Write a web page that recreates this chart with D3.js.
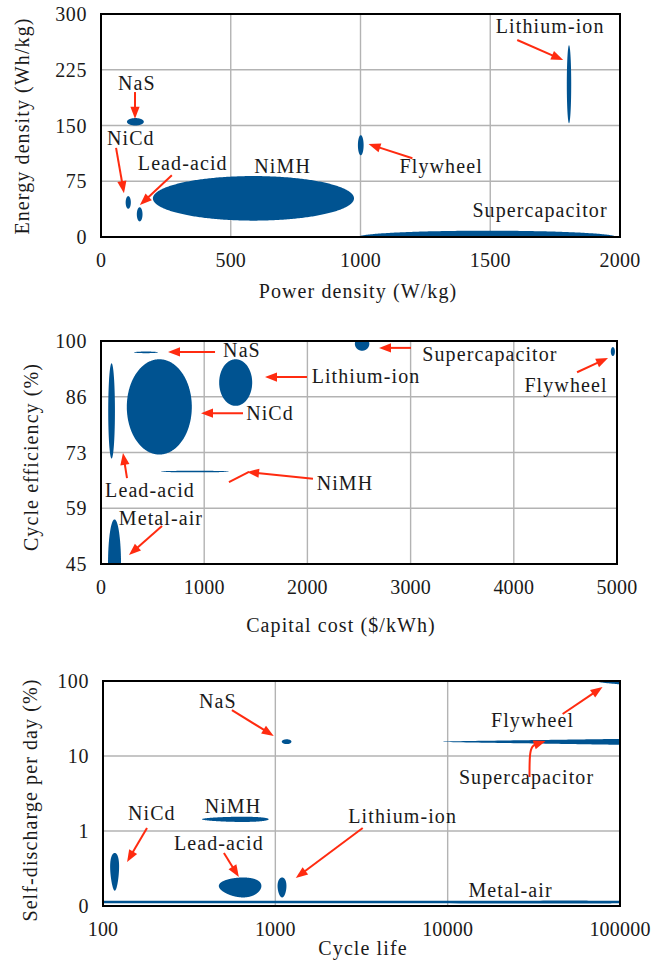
<!DOCTYPE html>
<html><head><meta charset="utf-8">
<script src="https://cdn.jsdelivr.net/npm/d3@7/dist/d3.min.js"></script>
<style>body{margin:0;background:#fff}</style></head>
<body><svg id="chart" width="652" height="966"></svg>
<script>
// ---------- Panel 1: power density vs energy density ----------
const tech1 = ["NaS","NiCd","Lead-acid","NiMH","Flywheel","Lithium-ion","Supercapacitor"];
const powerMin  = [100, 95, 138, 200, 990, 1795, 992];
const powerMax  = [165, 115, 160, 975, 1012, 1812, 1985];
const energyMin = [150, 38, 21, 22, 110, 153, -8.5];
const energyMax = [160, 55, 40, 82, 137, 258, 8.5];
const powerTicks = [0, 500, 1000, 1500, 2000];
const energyTicks = [0, 75, 150, 225, 300];
const energyTickLabels = ["0","75","150","225","300"];

// ---------- Panel 2: capital cost vs cycle efficiency ----------
const tech2 = ["NaS","Lead-acid","NiCd","Lithium-ion","NiMH","Supercapacitor","Flywheel","Metal-air"];
const costMin = [320, 70, 250, 1145, 580, 2460, 4940, 68];
const costMax = [552, 135, 880, 1465, 1240, 2600, 4980, 194];
const effMin  = [97.0, 71, 72, 84, 67.6, 97.6, 96.3, 34];
const effMax  = [97.4, 94.5, 95.5, 95.5, 68.0, 101, 98.5, 56];
const costTicks = [0, 1000, 2000, 3000, 4000, 5000];
const effTicks = [45, 58.75, 72.5, 86.25, 100];
const effTickLabels = ["45","59","73","86","100"];

// ---------- Panel 3: cycle life vs self-discharge ----------
const tech3 = ["NaS","NiMH","NiCd","Lead-acid","Lithium-ion","Metal-air","Supercapacitor","Flywheel"];
const lifeMin = [1090, 375, 110, 470, 1030, -50000, 9300, 73000];
const lifeMax = [1240, 915, 124, 830, 1160, 150000, 300000, 300000];
const dischargeMin = [14.4, 1.32, 0.16, 0.13, 0.13, 0.108, 14.0, 85];
const dischargeMax = [16.7, 1.55, 0.51, 0.24, 0.24, 0.118, 17.0, 115];
const lifeTicks = [100, 1000, 10000, 100000];
const lifeTickLabels = ["100","1000","10000","100000"];
const dischargeTicks = [0.1, 1, 10, 100];
const dischargeTickLabels = ["0","1","10","100"];

// ---------- Annotations (data coordinates; arrow head at last point) ----------
const notes1 = [
  {t:"NaS", x:138, y:198, path:[[131,195],[131,159]]},
  {t:"NiCd", x:115, y:124, path:[[58,120],[88.5,59]]},
  {t:"Lead-acid", x:315, y:90, path:[[273,83],[150,43]]},
  {t:"NiMH", x:700, y:86},
  {t:"Flywheel", x:1311, y:86, path:[[1200,106],[1031,125]]},
  {t:"Lithium-ion", x:1731, y:274, path:[[1604,265],[1781,238]]},
  {t:"Supercapacitor", x:1692, y:27}
];
const notes2 = [
  {t:"NaS", x:1366, y:96.1, path:[[1105,97.3],[649,97.3]]},
  {t:"Lithium-ion", x:2568, y:89.7, path:[[1996,91.1],[1589,91.1]]},
  {t:"NiCd", x:1638, y:80.6, path:[[1376,82.2],[969,82.2]]},
  {t:"Lead-acid", x:475, y:61.6, path:[[252,66.2],[213,72.4]]},
  {t:"Metal-air", x:581, y:54.6, path:[[591,54.4],[271,47.2]]},
  {t:"NiMH", x:2364, y:63.2, path:[[2054,66.0],[1415,67.7]]},
  {t:"", x:0, y:0, path:[[1434,67.7],[1240,65.2]], noHead:true},
  {t:"Supercapacitor", x:3769, y:95.0, path:[[3004,98.3],[2694,98.3]]},
  {t:"Flywheel", x:4506, y:87.4, path:[[4613,92.3],[4913,95.8]]}
];
const notes3 = [
  {t:"NaS", x:464, y:43.6, path:[[560,41.0],[979,18.5]]},
  {t:"NiMH", x:568, y:1.74},
  {t:"NiCd", x:192, y:1.40, path:[[180,1.10],[138,0.386]]},
  {t:"Lead-acid", x:470, y:0.558, path:[[503,0.509],[614,0.244]]},
  {t:"Lithium-ion", x:5480, y:1.28, path:[[3214,1.096],[1314,0.236]]},
  {t:"Metal-air", x:23170, y:0.132},
  {t:"Flywheel", x:31100, y:24.4, path:[[46450,36.3],[79200,83.2]]},
  {t:"Supercapacitor", x:28700, y:4.24, path:[[29850,5.25],[29850,11.0],[31000,13.8],[37000,15.85]]}
];

const BLUE = "#005391", RED = "#ff2b10", GRID = "#b3b3b3";
const FONT = "'Liberation Serif'";
const svg = d3.select("#chart");

function txt(sel, ls){ return sel.attr("font-family",FONT).attr("font-size",20).attr("letter-spacing",ls==null?1.1:ls).attr("fill","#1a1a1a"); }

function panel(cfg){
  const g = svg.append("g");
  const x = cfg.x, y = cfg.y;
  const [x0,x1] = x.range(), [y0,y1] = y.range();
  const clipId = "clip"+cfg.id;
  svg.append("defs").append("clipPath").attr("id",clipId)
    .append("rect").attr("x",x0).attr("y",y1).attr("width",x1-x0).attr("height",y0-y1);
  g.selectAll(".gx").data(cfg.xTicks).enter().append("line")
    .attr("x1",d=>x(d)).attr("x2",d=>x(d)).attr("y1",y0).attr("y2",y1)
    .attr("stroke",GRID).attr("stroke-width",1.4);
  g.selectAll(".gy").data(cfg.yTicks).enter().append("line")
    .attr("y1",d=>y(d)).attr("y2",d=>y(d)).attr("x1",x0).attr("x2",x1)
    .attr("stroke",GRID).attr("stroke-width",1.4);
  const eg = g.append("g").attr("clip-path",`url(#${clipId})`);
  const sx = v => x(cfg.logX ? (v>0?v:1e-8) : v);
  const sy = v => y(cfg.logY ? (v>0?v:1e-8) : v);
  const line = d3.line().curve(d3.curveLinearClosed);
  cfg.names.forEach((n,i)=>{
    const cx=(cfg.xmin[i]+cfg.xmax[i])/2, rx=(cfg.xmax[i]-cfg.xmin[i])/2;
    const cy=(cfg.ymin[i]+cfg.ymax[i])/2, ry=(cfg.ymax[i]-cfg.ymin[i])/2;
    const pts = d3.range(0,400).map(k=>{
      const a = k/400*2*Math.PI;
      return [sx(cx+rx*Math.cos(a)), sy(cy+ry*Math.sin(a))];
    });
    eg.append("path").attr("d",line(pts)).attr("fill",BLUE);
  });
  g.append("rect").attr("x",x0).attr("y",y1).attr("width",x1-x0).attr("height",y0-y1)
    .attr("fill","none").attr("stroke","#000").attr("stroke-width",2);
  txt(g.selectAll(".tx").data(cfg.xTicks).enter().append("text"), 0.2)
    .attr("x",d=>x(d)).attr("y",y0+30).attr("text-anchor","middle")
    .text((d,i)=>cfg.xLabels[i]);
  txt(g.selectAll(".ty").data(cfg.yTicks).enter().append("text"), 0.6)
    .attr("x",x0-14).attr("y",d=>y(d)+7).attr("text-anchor","end")
    .text((d,i)=>cfg.yLabels[i]);
  txt(g.append("text")).attr("x",cfg.xt[0]).attr("y",cfg.xt[1]).attr("text-anchor","middle").text(cfg.xTitle);
  txt(g.append("text")).attr("transform",`translate(${cfg.yt[0]},${cfg.yt[1]}) rotate(-90)`)
    .attr("text-anchor","middle").text(cfg.yTitle);
  cfg.notes.forEach(nt=>{
    if(nt.t) txt(g.append("text")).attr("x",x(nt.x)).attr("y",y(nt.y)).attr("text-anchor","middle").text(nt.t);
    if(!nt.path) return;
    const p = nt.path.map(d=>[x(d[0]),y(d[1])]);
    if(nt.noHead){
      g.append("path").attr("d",d3.line()(p)).attr("fill","none").attr("stroke",RED).attr("stroke-width",2);
      return;
    }
    const tip = p[p.length-1], prev = p[p.length-2];
    const dx = tip[0]-prev[0], dy = tip[1]-prev[1], L = Math.hypot(dx,dy);
    const ux = dx/L, uy = dy/L, hl = 12, hw = 4.6;
    const base = [tip[0]-ux*hl, tip[1]-uy*hl];
    const body = p.slice(0,-1).concat([[tip[0]-ux*(hl-2), tip[1]-uy*(hl-2)]]);
    g.append("path").attr("d",d3.line().curve(p.length>2?d3.curveBasis:d3.curveLinear)(body))
      .attr("fill","none").attr("stroke",RED).attr("stroke-width",2);
    g.append("path").attr("d",`M${tip[0]},${tip[1]}L${base[0]-uy*hw},${base[1]+ux*hw}L${base[0]+uy*hw},${base[1]-ux*hw}Z`)
      .attr("fill",RED);
  });
}

panel({id:1, x:d3.scaleLinear().domain([0,2000]).range([101,620]),
  y:d3.scaleLinear().domain([0,300]).range([237,14]),
  names:tech1, xmin:powerMin, xmax:powerMax, ymin:energyMin, ymax:energyMax,
  xTicks:powerTicks, xLabels:powerTicks.map(String), yTicks:energyTicks, yLabels:energyTickLabels,
  xTitle:"Power density (W/kg)", yTitle:"Energy density (Wh/kg)", xt:[358,298], yt:[29,126], notes:notes1});

panel({id:2, x:d3.scaleLinear().domain([0,5000]).range([101,617]),
  y:d3.scaleLinear().domain([45,100]).range([564,341]),
  names:tech2, xmin:costMin, xmax:costMax, ymin:effMin, ymax:effMax,
  xTicks:costTicks, xLabels:costTicks.map(String), yTicks:effTicks, yLabels:effTickLabels,
  xTitle:"Capital cost ($/kWh)", yTitle:"Cycle efficiency (%)", xt:[341,632], yt:[38,457], notes:notes2});

panel({id:3, x:d3.scaleLog().domain([100,100000]).range([103,620]),
  y:d3.scaleLog().domain([0.1,100]).range([906,681]), logX:true, logY:true,
  names:tech3, xmin:lifeMin, xmax:lifeMax, ymin:dischargeMin, ymax:dischargeMax,
  xTicks:lifeTicks, xLabels:lifeTickLabels, yTicks:dischargeTicks, yLabels:dischargeTickLabels,
  xTitle:"Cycle life", yTitle:"Self-discharge per day (%)", xt:[363,955], yt:[37,800], notes:notes3});
</script></body></html>
